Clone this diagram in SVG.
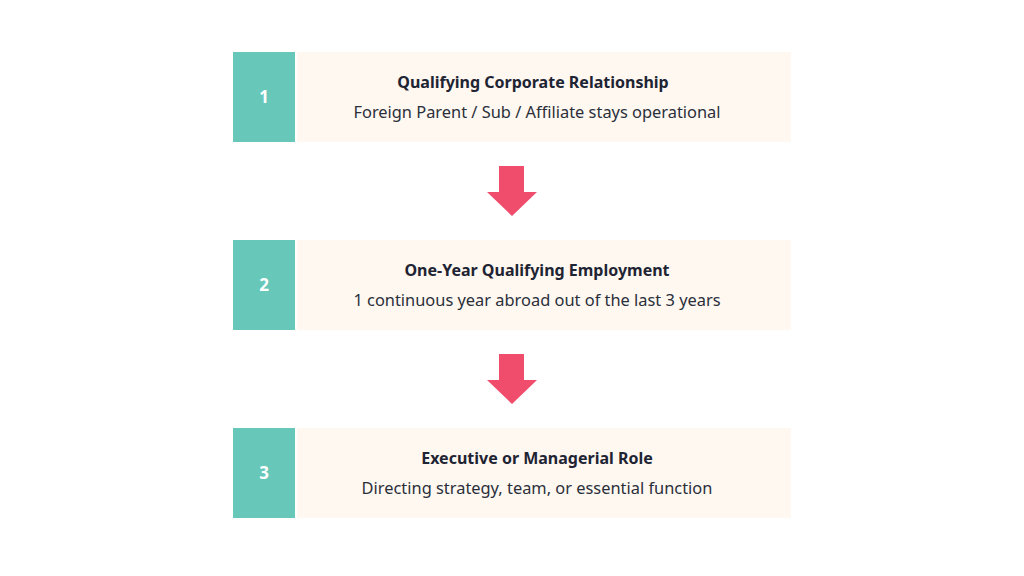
<svg xmlns="http://www.w3.org/2000/svg" width="1024" height="576" viewBox="0 0 1024 576">
<style>
.num{fill:#67c8b9}
.card{fill:#fef8f0}
.n{font-family:"Noto Sans","Liberation Sans",sans-serif;font-size:17px;font-weight:700;fill:#ffffff;text-anchor:middle}
.t{font-family:"Noto Sans","Liberation Sans",sans-serif;font-size:16px;font-weight:700;fill:#1e2433;text-anchor:middle}
.s{font-family:"Noto Sans","Liberation Sans",sans-serif;font-size:16.4px;fill:#2a2f3b;text-anchor:middle}
.arr{fill:#f04d6c}
</style>
<rect width="1024" height="576" fill="#ffffff"/>
<g id="step1">
<rect class="num" x="233" y="52" width="62" height="90"/>
<rect class="card" x="297" y="52" width="494" height="90"/>
<text class="n" x="264" y="103">1</text>
<text class="t" x="533" y="88">Qualifying Corporate Relationship</text>
<text class="s" x="537" y="118">Foreign Parent / Sub / Affiliate stays operational</text>
</g>
<g id="step2">
<rect class="num" x="233" y="240" width="62" height="90"/>
<rect class="card" x="297" y="240" width="494" height="90"/>
<text class="n" x="264" y="291">2</text>
<text class="t" x="537" y="276">One-Year Qualifying Employment</text>
<text class="s" x="537" y="306">1 continuous year abroad out of the last 3 years</text>
</g>
<g id="step3">
<rect class="num" x="233" y="428" width="62" height="90"/>
<rect class="card" x="297" y="428" width="494" height="90"/>
<text class="n" x="264" y="479">3</text>
<text class="t" x="537" y="464">Executive or Managerial Role</text>
<text class="s" x="537" y="494">Directing strategy, team, or essential function</text>
</g>
<g id="connectors">
<polygon class="arr" points="499,166 524,166 524,192 537,192 512,216 487,192 499,192"/>
<polygon class="arr" points="499,354 524,354 524,380 537,380 512,404 487,380 499,380"/>
</g>
</svg>
